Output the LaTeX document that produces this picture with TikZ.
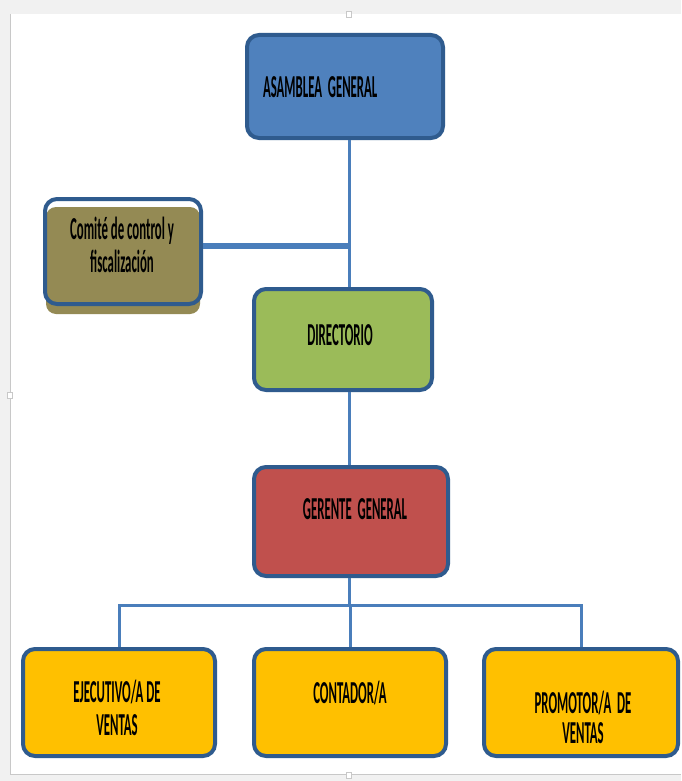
\documentclass[tikz,border=0pt]{standalone}
\usepackage{fontspec}
\setmainfont{Carlito}
\definecolor{bgrey}{HTML}{F1F1F1}
\definecolor{pgline}{HTML}{C8C8C8}
\definecolor{bord}{HTML}{2F5B8E}
\definecolor{conn}{HTML}{4A7EBB}
\definecolor{cblue}{HTML}{4F81BD}
\definecolor{colive}{HTML}{948A54}
\definecolor{cgreen}{HTML}{9BBB59}
\definecolor{cred}{HTML}{C0504D}
\definecolor{cgold}{HTML}{FFC000}
\tikzset{
  orgbox/.style={rectangle, rounded corners=12pt, draw=bord, line width=4pt, inner sep=0pt},
  lbl/.style={font=\fontsize{32}{33}\selectfont\bfseries, xscale=0.40, align=center, inner sep=0pt, text=black},
  link/.style={draw=conn, line width=3pt},
  handle/.style={draw=pgline, fill=white, line width=0.8pt, minimum width=5pt, minimum height=6pt, inner sep=0pt}
}
\begin{document}
\begin{tikzpicture}[x=1pt,y=-1pt]
% page background
\fill[bgrey] (0,0) rectangle (681,781);
\fill[white] (10,14) rectangle (681,774);
\draw[pgline, line width=1pt] (10,14) -- (10,774) -- (681,774);
\node[handle] (h1) at (349,14) {};
\node[handle] (h2) at (10,395) {};
\node[handle] (h3) at (349,775) {};
\useasboundingbox (0,0) rectangle (681,781);

% boxes
\node[orgbox, fill=cblue, minimum width=196pt, minimum height=103pt] (asam) at (345,86.5) {};
\fill[colive, rounded corners=10pt] (46,207) rectangle (200,314);
\node[orgbox, minimum width=156pt, minimum height=105pt] (comite) at (123,251.5) {};
\node[orgbox, fill=cgreen, minimum width=178pt, minimum height=101pt] (dir) at (343,339.5) {};
\node[orgbox, fill=cred, minimum width=194pt, minimum height=109pt] (ger) at (351,521.5) {};
\node[orgbox, fill=cgold, minimum width=192pt, minimum height=107pt] (ejec) at (119,702.5) {};
\node[orgbox, fill=cgold, minimum width=192pt, minimum height=107pt] (cont) at (350,702.5) {};
\node[orgbox, fill=cgold, minimum width=194pt, minimum height=107pt] (prom) at (581,702.5) {};

% labels
\node[lbl, anchor=west] (tasam) at (263,87) {ASAMBLEA\ \ GENERAL};
\node[lbl] (tcom) at (122,245) {Comité de control y\\fiscalización};
\node[lbl] (tdir) at (340,335) {DIRECTORIO};
\node[lbl] (tger) at (355,509) {GERENTE\ \ GENERAL};
\node[lbl] (tejec) at (117,708) {EJECUTIVO/A DE\\VENTAS};
\node[lbl] (tcont) at (350,693) {CONTADOR/A};
\node[lbl, font=\fontsize{32}{30}\selectfont\bfseries] (tprom) at (583,717) {PROMOTOR/A\ \ DE\\VENTAS};

% connectors
\coordinate (spine) at (349,0);
\draw[link] (asam.south -| spine) -- (dir.north -| spine);
\coordinate (cjunc) at (349,246);
\draw[draw=conn, line width=6pt] (comite.east |- cjunc) -- (cjunc);
\draw[link] (dir.south -| spine) -- (ger.north -| spine);
\coordinate (bar) at (0,605);
\draw[link] (ger.south -| spine) -- (bar -| spine);
\draw[link] (ejec.north) -- (bar -| ejec.north) -- (bar -| prom.north) -- (prom.north);
\draw[link] (bar -| cont.north) -- (cont.north);
\end{tikzpicture}
\end{document}
